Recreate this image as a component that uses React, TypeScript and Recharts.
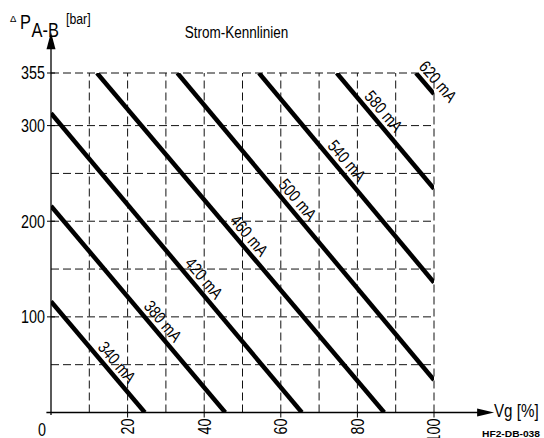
import React from 'react';
import { LineChart, Line, XAxis, YAxis, ReferenceLine, ReferenceDot } from 'recharts';

// Current characteristic lines: start and end points (Vg [%], ΔP [bar])
const currents = ['340 mA', '380 mA', '420 mA', '460 mA', '500 mA', '540 mA', '580 mA', '620 mA'];
const startVg = [0, 0, 0, 12, 33, 54.3, 74.6, 95.3];
const startDp = [116, 216, 313, 355, 355, 355, 355, 355];
const endVg = [24.5, 45.5, 65.5, 87, 100, 100, 100, 100];
const endDp = [0, 0, 0, 0, 34, 136, 234, 333];
// Vg position along each line where its label sits
const labelVg = [15, 27, 37.7, 49.5, 62.2, 75, 84.6, 98.8];

const xTicks = [0, 20, 40, 60, 80, 100];
const yTicks = [100, 200, 300, 355];
const xGrid = [10, 20, 30, 40, 50, 60, 70, 80, 90, 100];
const yGrid = [50, 100, 150, 200, 250, 300, 355];

const FONT = "'Liberation Sans', Arial, sans-serif";
const NARROW = 0.82;
const W = 544;
const H = 438;

const series = currents.map((name, i) => ({
  name,
  data: [
    { vg: startVg[i], dp: startDp[i] },
    { vg: endVg[i], dp: endDp[i] },
  ],
}));

const lineAt = (i: number, vg: number) => {
  const t = (vg - startVg[i]) / (endVg[i] - startVg[i]);
  return startDp[i] + t * (endDp[i] - startDp[i]);
};

const NText = (props: any) => {
  const { x, y, size, anchor = 'start', rot = 0, dy, weight, sx = NARROW, children } = props;
  return (
    <text
      x={0}
      y={0}
      dy={dy}
      textAnchor={anchor}
      transform={`translate(${x} ${y}) rotate(${rot}) scale(${sx} 1)`}
      fontFamily={FONT}
      fontSize={size}
      fontWeight={weight}
      fill="#000"
    >
      {children}
    </text>
  );
};

const YTick = (props: any) => {
  const { x, y, payload } = props;
  return (
    <g>
      <line x1={x + 2} x2={x + 10} y1={y} y2={y} stroke="#000" strokeWidth={1} />
      <NText x={x} y={y} dy="0.36em" anchor="end" size={17.5}>
        {payload.value}
      </NText>
    </g>
  );
};

const XTick = (props: any) => {
  const { x, y, payload } = props;
  const axisY = y - 6;
  if (payload.value === 0) {
    return (
      <NText x={x - 9} y={436} anchor="middle" size={17.5}>
        0
      </NText>
    );
  }
  return (
    <g>
      <line x1={x} x2={x} y1={axisY} y2={axisY + 5} stroke="#000" strokeWidth={1} />
      <NText x={x} y={y} dy="0.36em" anchor="end" rot={-90} size={17.5}>
        {payload.value}
      </NText>
    </g>
  );
};

const ArrowX = (p: any) => {
  const { x1, y1, x2, y2 } = p;
  return (
    <g>
      <line x1={x1} y1={y1} x2={x2 - 14} y2={y2} stroke="#000" strokeWidth={1.3} />
      <polygon points={`${x2},${y2} ${x2 - 17},${y2 - 4} ${x2 - 17},${y2 + 4}`} fill="#000" />
    </g>
  );
};

const ArrowY = (p: any) => {
  const { x1, y1, x2, y2 } = p;
  const tipY = Math.min(y1, y2);
  const baseY = Math.max(y1, y2);
  return (
    <g>
      <line x1={x1} y1={baseY} x2={x2} y2={tipY + 14} stroke="#000" strokeWidth={1.3} />
      <polygon points={`${x1},${tipY} ${x1 - 4.5},${tipY + 17} ${x1 + 4.5},${tipY + 17}`} fill="#000" />
    </g>
  );
};

const makeLabel = (text: string) => (p: any) => {
  const { cx, cy } = p;
  return (
    <NText x={cx + 8.8} y={cy - 7.4} dy="0.36em" anchor="middle" rot={49.7} size={17}>
      {text}
    </NText>
  );
};

export default function App() {
  return (
    <div style={{ position: 'absolute', left: 0, top: 0, width: W, height: H, background: '#fff' }}>
      <LineChart width={W} height={H} margin={{ top: 73, right: 110, bottom: 0, left: 0 }}>
        <XAxis
          dataKey="vg"
          type="number"
          domain={[0, 100]}
          ticks={xTicks}
          height={25.5}
          axisLine={false}
          tickLine={false}
          tickSize={4}
          tickMargin={2}
          tick={<XTick />}
          allowDataOverflow
        />
        <YAxis
          dataKey="dp"
          type="number"
          domain={[0, 355]}
          ticks={yTicks}
          width={51}
          axisLine={false}
          tickLine={false}
          tickSize={4}
          tickMargin={2}
          tick={<YTick />}
          allowDataOverflow
        />
        {xGrid.map((v) => (
          <ReferenceLine key={'gx' + v} x={v} stroke="#111" strokeWidth={1} strokeDasharray="8 4" ifOverflow="visible" />
        ))}
        {yGrid.map((v) => (
          <ReferenceLine key={'gy' + v} y={v} stroke="#111" strokeWidth={1} strokeDasharray="8 4" ifOverflow="visible" />
        ))}
        {series.map((s) => (
          <Line
            key={s.name}
            data={s.data}
            dataKey="dp"
            name={s.name}
            type="linear"
            stroke="#000"
            strokeWidth={4.5}
            dot={false}
            activeDot={false}
            isAnimationActive={false}
          />
        ))}
        <ReferenceLine
          segment={[{ x: -1.2, y: 0 }, { x: 115.7, y: 0 }]}
          ifOverflow="visible"
          shape={ArrowX}
        />
        <ReferenceLine
          segment={[{ x: 0, y: -2.6 }, { x: 0, y: 397.6 }]}
          ifOverflow="visible"
          shape={ArrowY}
        />
        {currents.map((name, i) => (
          <ReferenceDot
            key={'lbl' + name}
            x={labelVg[i]}
            y={lineAt(i, labelVg[i])}
            r={0}
            ifOverflow="visible"
            shape={makeLabel(name)}
          />
        ))}
      </LineChart>
      <svg
        width={W}
        height={H}
        style={{ position: 'absolute', left: 0, top: 0, pointerEvents: 'none' }}
      >
        <NText x={10} y={22} size={9.5} sx={1}>Δ</NText>
        <NText x={20} y={29.3} size={20}>P</NText>
        <NText x={31.5} y={37.3} size={20}>A-B</NText>
        <NText x={66} y={24.3} size={15}>[bar]</NText>
        <NText x={236.5} y={38} anchor="middle" size={16.5}>
          Strom-Kennlinien
        </NText>
        <NText x={494} y={417} size={18.5}>Vg [%]</NText>
        <text
          x={482}
          y={436.5}
          fontFamily={FONT}
          fontWeight="bold"
          fontSize={9}
          textLength={58}
          lengthAdjust="spacingAndGlyphs"
          fill="#000"
        >
          HF2-DB-038
        </text>
      </svg>
    </div>
  );
}
